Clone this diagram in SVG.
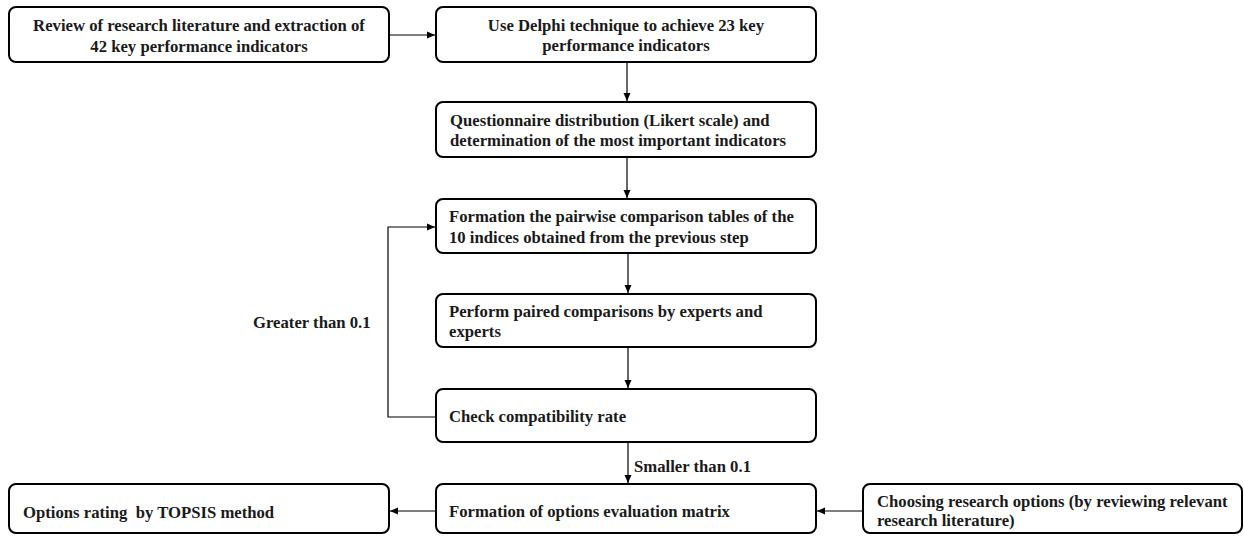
<svg xmlns="http://www.w3.org/2000/svg" width="1244" height="536" viewBox="0 0 1244 536">
<style>
.box{fill:#fff;stroke:#000;stroke-width:2}
.t{font-family:"Liberation Serif","Times New Roman",serif;font-weight:bold;font-size:16.7px;fill:#1a1a1a}
.c{text-anchor:middle}
.ln{fill:none;stroke:#000;stroke-width:1.2}
</style>
<defs>
<marker id="ah" viewBox="0 0 8 8" refX="8" refY="4" markerWidth="8" markerHeight="8" markerUnits="userSpaceOnUse" orient="auto">
<path d="M0,0.5 L8,4 L0,7.5 Z" fill="#000"/>
</marker>
</defs>
<rect width="1244" height="536" fill="#fff"/>
<g id="connectors">
<line class="ln" x1="389" y1="35" x2="435" y2="35" marker-end="url(#ah)"/>
<line class="ln" x1="627" y1="62" x2="627" y2="101" marker-end="url(#ah)"/>
<line class="ln" x1="627" y1="157" x2="627" y2="198" marker-end="url(#ah)"/>
<line class="ln" x1="628" y1="253" x2="628" y2="293" marker-end="url(#ah)"/>
<line class="ln" x1="628" y1="347" x2="628" y2="388" marker-end="url(#ah)"/>
<line class="ln" x1="628" y1="442" x2="628" y2="483" marker-end="url(#ah)"/>
<polyline class="ln" points="436,417 388,417 388,227 435,227" marker-end="url(#ah)"/>
<line class="ln" x1="436" y1="511" x2="390" y2="511" marker-end="url(#ah)"/>
<line class="ln" x1="863" y1="511" x2="817" y2="511" marker-end="url(#ah)"/>
<text class="t" x="634" y="472">Smaller than 0.1</text>
<text class="t" x="253" y="328">Greater than 0.1</text>
</g>
<g id="n1">
<rect class="box" x="9" y="7" width="380" height="55" rx="7"/>
<text class="t c" x="199" y="31">Review of research literature and extraction of</text>
<text class="t c" x="199" y="52">42 key performance indicators</text>
</g>
<g id="n2">
<rect class="box" x="436" y="7" width="380" height="55" rx="7"/>
<text class="t c" x="626" y="31">Use Delphi technique to achieve 23 key</text>
<text class="t c" x="626" y="51">performance indicators</text>
</g>
<g id="n3">
<rect class="box" x="436" y="102" width="380" height="55" rx="7"/>
<text class="t" x="450" y="126">Questionnaire distribution (Likert scale) and</text>
<text class="t" x="450" y="146">determination of the most important indicators</text>
</g>
<g id="n4">
<rect class="box" x="436" y="199" width="380" height="54" rx="7"/>
<text class="t" x="449" y="222">Formation the pairwise comparison tables of the</text>
<text class="t" x="449" y="243">10 indices obtained from the previous step</text>
</g>
<g id="n5">
<rect class="box" x="436" y="294" width="380" height="53" rx="7"/>
<text class="t" x="449" y="317">Perform paired comparisons by experts and</text>
<text class="t" x="449" y="337">experts</text>
</g>
<g id="n6">
<rect class="box" x="436" y="389" width="380" height="53" rx="7"/>
<text class="t" x="449" y="422">Check compatibility rate</text>
</g>
<g id="n7">
<rect class="box" x="436" y="484" width="380" height="49" rx="7"/>
<text class="t" x="449" y="517">Formation of options evaluation matrix</text>
</g>
<g id="n8">
<rect class="box" x="9" y="484" width="380" height="49" rx="7"/>
<text class="t" x="23" y="518" xml:space="preserve">Options rating  by TOPSIS method</text>
</g>
<g id="n9">
<rect class="box" x="863" y="484" width="379" height="49" rx="7"/>
<text class="t" x="877" y="507">Choosing research options (by reviewing relevant</text>
<text class="t" x="877" y="526">research literature)</text>
</g>
</svg>
